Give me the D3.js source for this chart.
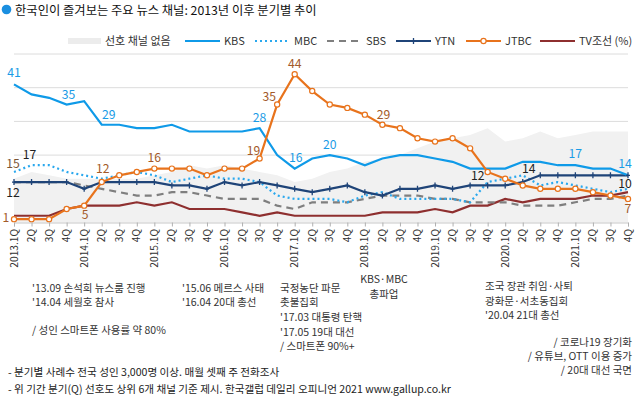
<!DOCTYPE html>
<html>
<head>
<meta charset="utf-8">
<script src="https://cdn.jsdelivr.net/npm/d3@7"></script>
<style>
  body { margin: 0; background: #fff; }
  svg { display: block; font-family: "Noto Sans CJK KR", "Noto Sans", sans-serif; }
</style>
</head>
<body>
<div id="chart"></div>
<script>
const quarters = [
  "2013.1Q","2013.2Q","2013.3Q","2013.4Q","2014.1Q","2014.2Q","2014.3Q","2014.4Q",
  "2015.1Q","2015.2Q","2015.3Q","2015.4Q","2016.1Q","2016.2Q","2016.3Q","2016.4Q",
  "2017.1Q","2017.2Q","2017.3Q","2017.4Q","2018.1Q","2018.2Q","2018.3Q","2018.4Q",
  "2019.1Q","2019.2Q","2019.3Q","2019.4Q","2020.1Q","2020.2Q","2020.3Q","2020.4Q",
  "2021.1Q","2021.2Q","2021.3Q","2021.4Q"];

const noneVals = [13,15,14,13,13,13,13,13,14,15,17,16, 17,16,15,14,12,13,15,16,18,19,20,22, 24,25,26,28,24,25,27,25,26,27,27,27];
const kbsVals  = [41,38,37,35,36,29,29,28,28,29,27,27, 27,27,28,20,16,19,20,19,17,19,20,20, 19,18,16,16,16,18,18,17,17,16,16,14];
const mbcVals  = [15,17,17,15,14,13,14,15,14,12,13,14, 13,13,12,8,7,7,7,6,8,9,7,7, 7,7,6,12,13,14,11,12,11,10,9,10];
const sbsVals  = [12,12,12,12,11,10,9,8,8,9,9,8, 7,7,7,5,4,6,6,6,7,8,8,8, 7,7,6,6,6,5,5,5,6,7,7,8];
const ytnVals  = [12,12,12,12,10,12,12,12,12,11,11,10, 12,11,12,11,10,9,10,11,9,8,10,10, 11,10,11,11,11,12,14,14,14,14,14,14];
const jtbcVals = [1,1,1,4,5,12,14,15,16,16,16,14, 16,16,19,35,44,39,35,34,32,29,28,25, 24,25,22,15,13,11,10,10,10,9,8,7];
const tvcVals  = [2,2,2,4,5,5,5,6,5,6,4,4, 4,3,2,3,2,2,2,2,2,3,3,3, 4,3,5,5,7,6,7,7,7,8,8,9];

const yTicks = [0,10,20,30,40,50];

// [series, quarter index, text, dx, dy]
const valueLabels = [
  ["kbs", 0, "41", 0, -7], ["kbs", 3, "35", 2, -6], ["kbs", 5, "29", 7, -6],
  ["kbs", 14, "28", 0, -6], ["kbs", 16, "16", 1, -7], ["kbs", 18, "20", 0, -6],
  ["kbs", 32, "17", 0, -7], ["kbs", 35, "14", -3, -7],
  ["mbc", 0, "15", -1, -4], ["mbc", 1, "17", -2, -6], ["mbc", 27, "12", -10, -2],
  ["mbc", 29, "14", 6, -2], ["mbc", 35, "10", -3, -1],
  ["ytn", 0, "12", -1, 15],
  ["jtbc", 0, "1", -8, 3], ["jtbc", 4, "5", 1, 13], ["jtbc", 5, "12", 1, -9],
  ["jtbc", 8, "16", 0, -7], ["jtbc", 14, "19", -6, -3], ["jtbc", 15, "35", -8, -4],
  ["jtbc", 16, "44", 0, -6], ["jtbc", 21, "29", 1, -6], ["jtbc", 35, "7", 0, 14]
];

const notes = [
  ["'13.09 손석희 뉴스룸 진행", 32, 292, "start"],
  ["'14.04 세월호 참사", 32, 306, "start"],
  ["/ 성인 스마트폰 사용률 약 80%", 32, 334, "start"],
  ["'15.06 메르스 사태", 182, 292, "start"],
  ["'16.04 20대 총선", 182, 306, "start"],
  ["국정농단 파문", 280, 292, "start"],
  ["촛불집회", 280, 306, "start"],
  ["'17.03 대통령 탄핵", 280, 321, "start"],
  ["'17.05 19대 대선", 280, 336, "start"],
  ["/ 스마트폰 90%+", 280, 350, "start"],
  ["KBS·MBC", 384, 283, "middle"],
  ["총파업", 384, 298, "middle"],
  ["조국 장관 취임·사퇴", 485, 290, "start"],
  ["광화문·서초동집회", 485, 305, "start"],
  ["'20.04 21대 총선", 485, 319, "start"],
  ["/ 코로나19 장기화", 632, 346, "end"],
  ["/ 유튜브, OTT 이용 증가", 632, 360, "end"],
  ["/ 20대 대선 국면", 632, 374, "end"]
];

const footnotes = [
  "- 분기별 사례수 전국 성인 3,000명 이상. 매월 셋째 주 전화조사",
  "- 위 기간 분기(Q) 선호도 상위 6개 채널 기준 제시. 한국갤럽 데일리 오피니언 2021 www.gallup.co.kr"
];

const WIDTH = 636, HEIGHT = 399;
const svg = d3.select("#chart").append("svg")
  .attr("width", WIDTH)
  .attr("height", HEIGHT);

const x = d3.scalePoint().domain(quarters).range([14, 628]);
const y = d3.scaleLinear().domain([0, 50]).range([222.5, 54]);

// title
svg.append("circle").attr("cx", 6.5).attr("cy", 9.5).attr("r", 4.8).attr("fill", "#1a8fe0");
svg.append("text").attr("x", 15).attr("y", 14.5)
  .attr("font-size", 12.3).attr("fill", "#111")
  .text("한국인이 즐겨보는 주요 뉴스 채널: 2013년 이후 분기별 추이");

// grid
svg.append("g").selectAll("line").data(yTicks.slice(1)).join("line")
  .attr("x1", 14).attr("x2", 628)
  .attr("y1", d => y(d)).attr("y2", d => y(d))
  .attr("stroke", "#dcdcdc").attr("stroke-width", 1);

// no preference area
svg.append("path")
  .datum(noneVals)
  .attr("fill", "#f1f1f1")
  .attr("d", d3.area().x((d, i) => x(quarters[i])).y0(y(0)).y1(d => y(d)));

// x axis
const xAxis = svg.append("g").attr("transform", `translate(0, ${y(0)})`)
  .call(d3.axisBottom(x).tickSize(4).tickFormat(""));
xAxis.select(".domain").attr("stroke", "#c8c8c8");
xAxis.selectAll(".tick line").attr("stroke", "#b0b0b0");

svg.append("g").selectAll("text").data(quarters).join("text")
  .attr("transform", d => `translate(${x(d)}, 229) rotate(-90)`)
  .attr("text-anchor", "end")
  .attr("dy", "0.35em")
  .attr("font-size", 10.2).attr("fill", "#333")
  .text(d => d.endsWith(".1Q") ? d : d.slice(5));

const series = {
  tvc:  { vals: tvcVals,  color: "#8e2f2f", dash: null },
  sbs:  { vals: sbsVals,  color: "#7f7f7f", dash: "7,5" },
  mbc:  { vals: mbcVals,  color: "#2aa8ee", dash: "2,3" },
  ytn:  { vals: ytnVals,  color: "#1f4478", dash: null },
  kbs:  { vals: kbsVals,  color: "#0f9ae8", dash: null },
  jtbc: { vals: jtbcVals, color: "#e8731c", dash: null }
};

const line = d3.line().x((d, i) => x(quarters[i])).y(d => y(d));

Object.keys(series).forEach(k => {
  const s = series[k];
  svg.append("path")
    .datum(s.vals)
    .attr("fill", "none")
    .attr("stroke", s.color)
    .attr("stroke-width", 2.2)
    .attr("stroke-dasharray", s.dash)
    .attr("d", line);
});

// YTN + markers
svg.append("g").selectAll("path").data(ytnVals).join("path")
  .attr("d", (d, i) => `M${x(quarters[i])},${y(d) - 3}V${y(d) + 3}M${x(quarters[i]) - 2},${y(d)}H${x(quarters[i]) + 2}`)
  .attr("stroke", "#1f4478").attr("stroke-width", 1.3);

// JTBC circles
svg.append("g").selectAll("circle").data(jtbcVals).join("circle")
  .attr("cx", (d, i) => x(quarters[i]))
  .attr("cy", d => y(d))
  .attr("r", 2.6)
  .attr("fill", "#fff")
  .attr("stroke", "#e8731c").attr("stroke-width", 1.2);

// value labels
const labelColor = { kbs: "#1a9be6", mbc: "#222", ytn: "#222", jtbc: "#a35a2a" };
const seriesVals = { kbs: kbsVals, mbc: mbcVals, ytn: ytnVals, jtbc: jtbcVals };
svg.append("g").selectAll("text").data(valueLabels).join("text")
  .attr("x", d => x(quarters[d[1]]) + d[3])
  .attr("y", d => y(seriesVals[d[0]][d[1]]) + d[4])
  .attr("text-anchor", "middle")
  .attr("font-size", 12.2)
  .attr("fill", d => (d[0] === "mbc" && d[1] === 0) ? "#7a5535" : labelColor[d[0]])
  .text(d => d[2]);

// legend
const lg = svg.append("g").attr("font-size", 11).attr("fill", "#333");
lg.append("rect").attr("x", 68).attr("y", 38).attr("width", 33).attr("height", 6).attr("fill", "#ececec");
lg.append("text").attr("x", 105).attr("y", 41).attr("dy", "0.35em").text("선호 채널 없음");
const legendItems = [
  ["kbs", 185, "KBS"], ["mbc", 255, "MBC"], ["sbs", 327, "SBS"],
  ["ytn", 396, "YTN"], ["jtbc", 466, "JTBC"], ["tvc", 540, "TV조선 (%)"]
];
legendItems.forEach(([k, lx, name]) => {
  const s = series[k];
  lg.append("line").attr("x1", lx).attr("x2", lx + 35).attr("y1", 41).attr("y2", 41)
    .attr("stroke", s.color).attr("stroke-width", 2.2).attr("stroke-dasharray", s.dash);
  if (k === "ytn") {
    lg.append("line").attr("x1", lx + 17.5).attr("x2", lx + 17.5).attr("y1", 38).attr("y2", 44)
      .attr("stroke", s.color).attr("stroke-width", 1.3);
  }
  if (k === "jtbc") {
    lg.append("circle").attr("cx", lx + 17.5).attr("cy", 41).attr("r", 2.6)
      .attr("fill", "#fff").attr("stroke", s.color).attr("stroke-width", 1.2);
  }
  lg.append("text").attr("x", lx + 39).attr("y", 41).attr("dy", "0.35em").text(name);
});

// event notes
svg.append("g").selectAll("text").data(notes).join("text")
  .attr("x", d => d[1]).attr("y", d => d[2])
  .attr("text-anchor", d => d[3])
  .attr("font-size", 10.5).attr("fill", "#333")
  .text(d => d[0]);

svg.append("g").selectAll("text").data(footnotes).join("text")
  .attr("x", 8).attr("y", (d, i) => 376 + i * 17)
  .attr("font-size", 10.6).attr("fill", "#222")
  .text(d => d);
</script>
</body>
</html>
